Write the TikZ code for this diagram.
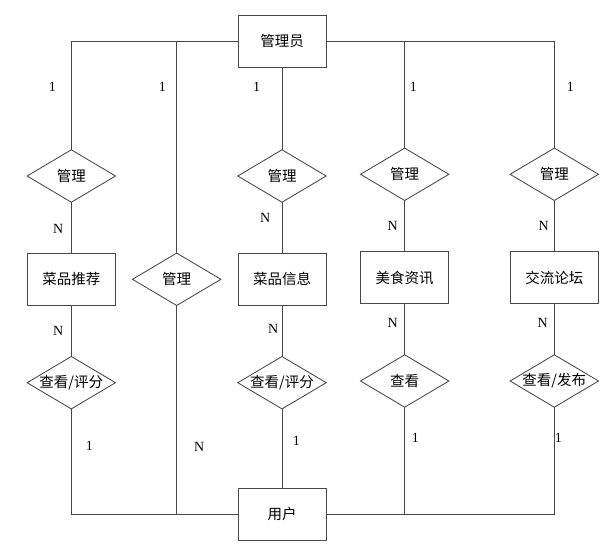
\documentclass[tikz,border=0pt]{standalone}
\usepackage{fontspec}
\setmainfont{Liberation Serif}
\newfontfamily\cjk{Noto Sans CJK SC}
\begin{document}
\begin{tikzpicture}[x=1pt,y=-1pt,
  linecol/.style={draw=black!72, line width=0.85pt},
  ent/.style={linecol, rectangle, minimum width=88pt, minimum height=52pt, inner sep=0pt, font=\cjk\fontsize{14.5}{16}\selectfont},
  rel/.style={rectangle, minimum width=88pt, minimum height=52pt, inner sep=0pt, font=\cjk\fontsize{14.5}{16}\selectfont},
  card/.style={inner sep=0pt, font=\fontsize{14}{16}\selectfont},
  conn/.style={linecol}]
\useasboundingbox (0,0) rectangle (615,549);
% entities
\node[ent] (admin) at (282,41) {管理员};
\node[ent] (e1) at (71.3,279.3) {菜品推荐};
\node[ent] (e3) at (282,279.3) {菜品信息};
\node[ent] (e4) at (404.7,277.7) {美食资讯};
\node[ent] (e5) at (554.3,277.7) {交流论坛};
\node[ent] (user) at (282,514.3) {用户};
% relationships
\node[rel] (d1) at (71.3,176) {管理};
\node[rel] (d2) at (176.7,279.3) {管理};
\node[rel] (d3) at (282,176) {管理};
\node[rel] (d4) at (404.7,174.3) {管理};
\node[rel] (d5) at (554.3,174.3) {管理};
\node[rel] (r1) at (71.3,382.7) {查看/评分};
\node[rel] (r3) at (282,382.7) {查看/评分};
\node[rel] (r4) at (404.7,381) {查看};
\node[rel] (r5) at (554.3,381) {查看/发布};
\foreach \n in {d1,d2,d3,d4,d5,r1,r3,r4,r5}
  \draw[linecol] (\n.north) -- (\n.east) -- (\n.south) -- (\n.west) -- cycle;
% connectors
\draw[conn] (admin.west) -| (d1.north);
\draw[conn] (admin.west) -| (d2.north);
\draw[conn] (admin.south) -- (d3.north);
\draw[conn] (admin.east) -| (d4.north);
\draw[conn] (admin.east) -| (d5.north);
\draw[conn] (d1.south) -- (e1.north);
\draw[conn] (d3.south) -- (e3.north);
\draw[conn] (d4.south) -- (e4.north);
\draw[conn] (d5.south) -- (e5.north);
\draw[conn] (e1.south) -- (r1.north);
\draw[conn] (e3.south) -- (r3.north);
\draw[conn] (e4.south) -- (r4.north);
\draw[conn] (e5.south) -- (r5.north);
\draw[conn] (r1.south) |- (user.west);
\draw[conn] (d2.south) |- (user.west);
\draw[conn] (r3.south) -- (user.north);
\draw[conn] (r4.south) |- (user.east);
\draw[conn] (r5.south) |- (user.east);
% cardinalities
\node[card] (c1) at (52.3,87.3) {1};
\node[card] (c2) at (162.3,87.3) {1};
\node[card] (c3) at (256.7,87.3) {1};
\node[card] (c4) at (413.3,87.3) {1};
\node[card] (c5) at (570.3,87.3) {1};
\node[card] (n1) at (58.3,228.7) {N};
\node[card] (n3) at (265.3,218.3) {N};
\node[card] (n4) at (392.7,226) {N};
\node[card] (n5) at (543.7,226) {N};
\node[card] (m1) at (58.3,331) {N};
\node[card] (m3) at (273.3,329.3) {N};
\node[card] (m4) at (392.7,323.3) {N};
\node[card] (m5) at (542.7,323.3) {N};
\node[card] (u1) at (89.3,445.7) {1};
\node[card] (u2) at (199.3,446.7) {N};
\node[card] (u3) at (296.3,441) {1};
\node[card] (u4) at (415.3,437.7) {1};
\node[card] (u5) at (558.3,437.7) {1};
\end{tikzpicture}
\end{document}
